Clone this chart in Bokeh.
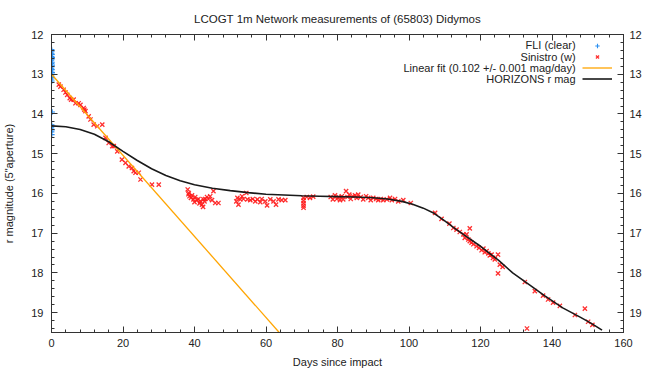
from bokeh.plotting import figure
from bokeh.models import (Range1d, LinearAxis, SingleIntervalTicker, Legend, LegendItem, Label)
from bokeh.embed import file_html
from bokeh.resources import INLINE

# ---------------- data ----------------
fli_days = [0.05, 0.10, 0.00, 0.15, 0.05, 0.20, 0.10, 0.00, 0.15, 0.05, 0.20, 0.10, 0.00,
            0.15, 0.05, 0.20, 0.10, 0.00, 0.15, 0.05, 0.10, 0.20, 0.05, 0.10, 0.00, 0.15, 0.05, 0.10]
fli_mag = [12.38, 12.42, 12.47, 12.50, 12.55, 12.58, 12.62, 12.66, 12.70, 12.73, 12.77, 12.81, 12.85,
           12.88, 12.92, 12.96, 13.00, 13.04, 13.08, 13.12, 13.17, 13.95, 14.27, 14.31, 14.35, 14.40, 14.45, 14.52]

sin_days = [2.05, 2.5, 3.4, 3.9, 4.4, 5.1, 5.5, 6.2, 6.7, 7.6, 8.1, 9.0, 9.2, 9.5, 10.4, 10.9, 11.8, 12.8,
            14.2, 15.1, 16.0, 17.0, 17.4, 18.4, 19.7, 20.7, 21.6, 22.5, 23.0, 23.5, 24.4, 24.9, 28.1, 30.0,
            38.1, 38.3, 38.4, 38.6, 39.0, 39.3, 39.7, 40.0, 40.2, 40.7, 41.1, 41.4, 41.6, 42.1, 42.4, 42.5,
            42.8, 43.0, 43.5, 43.9, 44.4, 44.9, 45.3, 45.8, 46.7,
            51.7, 52.0, 52.3, 52.8, 53.3, 53.7, 54.5, 54.8, 55.6, 56.3, 57.0, 57.6, 58.4, 58.8, 59.8, 60.3,
            61.2, 62.1, 62.8, 63.5, 64.4, 65.4,
            70.5, 70.5, 70.5, 70.5, 70.5, 71.4, 72.3, 73.2,
            78.1, 78.7, 79.3, 79.8, 80.3, 80.7, 81.2, 81.6, 82.4, 82.8, 83.3, 83.7, 84.3, 84.9, 85.4, 85.8,
            86.5, 87.2, 88.0, 88.6, 89.3, 90.0, 90.8, 91.4, 92.1, 92.8, 93.8, 94.7, 95.2, 96.1, 97.0, 98.4,
            100.5,
            107.3, 109.1, 111.3, 112.4, 113.3, 114.2, 115.2, 115.6, 116.1, 116.6, 117.0, 117.0, 117.5, 118.0,
            118.9, 119.6, 120.3, 120.8, 121.2, 121.7, 122.2, 122.6, 123.1, 123.5, 124.0, 124.9, 124.9, 125.4,
            126.2, 132.4, 133.0, 135.2, 137.5, 138.9, 140.3, 142.2, 146.4, 149.2, 150.1, 151.3]
sin_mag = [13.26, 13.31, 13.39, 13.46, 13.52, 13.60, 13.64, 13.64, 13.73, 13.73, 13.77, 13.85, 13.89, 13.93,
           14.06, 14.14, 14.27, 14.31, 14.27, 14.60, 14.73, 14.81, 14.81, 14.94, 15.15, 15.23, 15.32, 15.36,
           15.44, 15.48, 15.48, 15.65, 15.78, 15.78,
           15.90, 16.02, 15.99, 16.07, 16.11, 16.05, 16.15, 16.22, 16.09, 16.17, 16.14, 16.25, 16.20, 16.28,
           16.34, 16.15, 16.20, 16.14, 16.09, 16.14, 16.07, 16.17, 15.94, 16.24, 16.24,
           16.20, 16.11, 16.28, 16.15, 16.07, 16.14, 15.99, 16.15, 16.17, 16.14, 16.20, 16.15, 16.22, 16.14,
           16.20, 16.30, 16.15, 16.20, 16.28, 16.15, 16.17, 16.17,
           16.11, 16.18, 16.25, 16.31, 16.36, 16.09, 16.11, 16.08,
           16.09, 16.15, 16.05, 16.14, 16.09, 16.17, 16.07, 16.15, 15.94, 16.09, 16.03, 16.14, 16.07, 16.05,
           16.11, 16.03, 16.09, 16.15, 16.07, 16.11, 16.17, 16.11, 16.14, 16.17, 16.14, 16.17, 16.15, 16.11,
           16.17, 16.14, 16.20, 16.17,
           16.24,
           16.49, 16.64, 16.76, 16.87, 16.91, 16.97, 17.03, 17.12, 17.03, 17.16, 16.88, 17.20, 17.24, 17.28,
           17.33, 17.37, 17.43, 17.39, 17.48, 17.45, 17.51, 17.56, 17.54, 17.62, 17.66, 17.54, 18.01, 17.79,
           17.85, 18.23, 19.40, 18.46, 18.57, 18.67, 18.75, 18.83, 19.06, 18.90, 19.23, 19.31]

fit_days = [0.0, 63.7]
fit_mag = [13.0, 19.5]

hor_days = [0, 4, 8, 12, 16, 20, 24, 28, 32, 36, 40, 45, 50, 55, 60, 65, 70, 75, 80, 85, 90, 94, 98,
            101, 104, 107, 110, 113, 116, 120, 125, 129, 134, 138, 143, 148, 151, 154]
hor_mag = [14.30, 14.32, 14.39, 14.51, 14.70, 14.94, 15.17, 15.38, 15.55, 15.68, 15.78, 15.87, 15.93,
           15.98, 16.02, 16.04, 16.06, 16.07, 16.08, 16.09, 16.11, 16.14, 16.20, 16.27, 16.37, 16.50,
           16.69, 16.89, 17.08, 17.33, 17.68, 18.00, 18.32, 18.58, 18.88, 19.12, 19.27, 19.44]

title_text = "LCOGT 1m Network measurements of (65803) Didymos"
legend_labels = ["FLI (clear)", "Sinistro (w)", "Linear fit (0.102 +/- 0.001 mag/day)", "HORIZONS r mag"]

FONT = "Liberation Sans"
TXT = "#222222"
AX = "#333333"

p = figure(width=644, height=370, output_backend="svg", toolbar_location=None,
           x_range=Range1d(0, 160), y_range=Range1d(19.5, 12),
           min_border_left=51, min_border_right=20, min_border_top=33, min_border_bottom=38,
           title=title_text)
p.title.align = "center"
p.title.text_font = FONT
p.title.text_font_size = "11.5px"
p.title.text_font_style = "normal"
p.title.text_color = TXT
p.title.standoff = 20
p.grid.visible = False
p.outline_line_color = AX
p.background_fill_color = "white"
p.border_fill_color = "white"

def style(ax, standoff=6):
    ax.axis_line_color = AX
    ax.major_tick_line_color = AX
    ax.minor_tick_line_color = AX
    ax.major_tick_in = 6
    ax.major_tick_out = 0
    ax.minor_tick_in = 3
    ax.minor_tick_out = 0
    ax.major_label_text_font = FONT
    ax.major_label_text_font_size = "11px"
    ax.major_label_text_color = TXT
    ax.major_label_standoff = standoff
    ax.axis_label_text_font = FONT
    ax.axis_label_text_font_size = "11px"
    ax.axis_label_text_font_style = "normal"
    ax.axis_label_text_color = TXT

p.xaxis[0].ticker = SingleIntervalTicker(interval=20, num_minor_ticks=5)
p.yaxis[0].ticker = SingleIntervalTicker(interval=1, num_minor_ticks=5)
style(p.xaxis[0], standoff=6)
style(p.yaxis[0], standoff=8)
p.xaxis[0].axis_label = "Days since impact"
p.xaxis[0].axis_label_standoff = 6
p.yaxis[0].axis_label = 'r magnitude (5"aperture)'
p.yaxis[0].axis_label_standoff = 13

top = LinearAxis(ticker=SingleIntervalTicker(interval=20, num_minor_ticks=5))
style(top, standoff=0)
top.major_label_overrides = {i * 20: "" for i in range(9)}
p.add_layout(top, "above")
right = LinearAxis(ticker=SingleIntervalTicker(interval=1, num_minor_ticks=5))
style(right, standoff=6)
p.add_layout(right, "right")

r_fli = p.scatter(fli_days, fli_mag, marker="cross", size=5.5, line_color="#2a8ff0", line_width=1.1)
r_sin = p.scatter(sin_days, sin_mag, marker="x", size=6, line_color="#ff1a1a", line_width=1.3, line_alpha=0.9)
r_fit = p.line(fit_days, fit_mag, line_color="#ffa500", line_width=1.3)
r_hor = p.line(hor_days, hor_mag, line_color="#1a1a1a", line_width=1.6)

renderers = [r_fli, r_sin, r_fit, r_hor]
leg = Legend(items=[LegendItem(label="", renderers=[r]) for r in renderers],
             location=(531, 248), orientation="vertical", padding=0, margin=0, spacing=0,
             glyph_width=30, glyph_height=11, label_width=0, label_height=0, label_standoff=0,
             label_text_font_size="1px", background_fill_alpha=0, border_line_alpha=0)
p.add_layout(leg, "center")

# legend texts (right aligned, left of the samples)
leg_text_x = 146.6
leg_row0 = 12.276
leg_step = 0.284
for i, t in enumerate(legend_labels):
    p.add_layout(Label(x=leg_text_x, y=leg_row0 + i * leg_step, text=t, text_align="right",
                       text_baseline="middle", text_font=FONT, text_font_size="11px", text_color=TXT))

open("out.html", "w").write(file_html(p, INLINE))
